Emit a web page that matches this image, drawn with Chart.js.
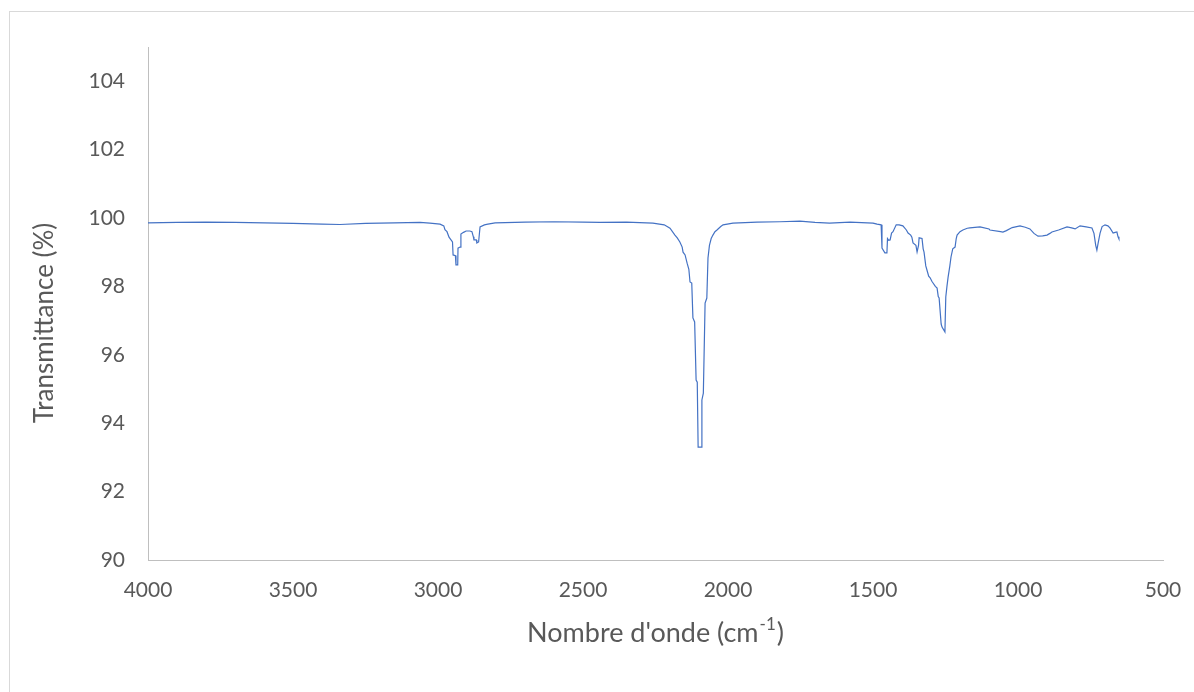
<!DOCTYPE html>
<html>
<head>
<meta charset="utf-8">
<script src="https://cdn.jsdelivr.net/npm/chart.js@4/dist/chart.umd.min.js"></script>
<style>
  html, body { margin: 0; padding: 0; background: #fff; }
  #wrap { width: 1194px; height: 692px; }
</style>
</head>
<body>
<div id="wrap"><canvas id="myChart" width="1194" height="692"></canvas></div>
<script>
var wavenumbers = [
  4000, 3900, 3800, 3700, 3600, 3500, 3400, 3338, 3250, 3150, 3062, 3028, 2993, 2980, 2976, 2969,
  2962, 2959, 2950, 2948, 2940, 2938, 2932, 2931, 2924, 2921, 2912, 2903, 2890, 2883, 2878, 2876,
  2868, 2866, 2860, 2855, 2840, 2828, 2803, 2700, 2600, 2500, 2441, 2350, 2259, 2220, 2200, 2183,
  2175, 2166, 2158, 2155, 2148, 2141, 2135, 2131, 2125, 2121, 2115, 2110, 2106, 2103, 2092, 2090,
  2085, 2079, 2073, 2069, 2064, 2058, 2052, 2045, 2038, 2025, 2017, 1983, 1900, 1821, 1752, 1700,
  1650, 1579, 1500, 1486, 1472, 1469, 1459, 1452, 1450, 1446, 1441, 1436, 1431, 1420, 1410, 1397,
  1385, 1379, 1370, 1366, 1362, 1352, 1348, 1343, 1341, 1331, 1327, 1324, 1318, 1314, 1308, 1303,
  1297, 1293, 1285, 1279, 1275, 1272, 1265, 1262, 1252, 1249, 1245, 1241, 1235, 1231, 1225, 1217,
  1213, 1210, 1200, 1190, 1175, 1166, 1131, 1100, 1097, 1060, 1052, 1040, 1020, 993, 975, 959,
  945, 931, 915, 900, 890, 883, 860, 831, 815, 803, 786, 765, 745, 738, 732, 728,
  724, 717, 710, 700, 690, 683, 672, 665, 659, 655, 652
];
var transmittance = [
  99.86, 99.87, 99.88, 99.87, 99.86, 99.84, 99.82, 99.81, 99.84, 99.86, 99.87, 99.85, 99.82, 99.77, 99.66, 99.60,
  99.44, 99.44, 99.30, 98.92, 98.90, 98.63, 98.63, 99.12, 99.15, 99.53, 99.58, 99.62, 99.62, 99.60, 99.45, 99.36,
  99.36, 99.27, 99.30, 99.74, 99.80, 99.82, 99.86, 99.88, 99.89, 99.88, 99.87, 99.88, 99.85, 99.80, 99.70, 99.50,
  99.42, 99.30, 99.15, 99.00, 98.92, 98.68, 98.50, 98.13, 98.10, 97.08, 96.96, 95.26, 95.20, 93.30, 93.30, 94.68,
  94.88, 97.51, 97.66, 98.83, 99.20, 99.40, 99.50, 99.60, 99.65, 99.75, 99.80, 99.85, 99.88, 99.89, 99.91, 99.87,
  99.85, 99.88, 99.85, 99.82, 99.80, 99.12, 98.98, 98.98, 99.40, 99.35, 99.36, 99.56, 99.60, 99.80, 99.80, 99.77,
  99.65, 99.56, 99.50, 99.44, 99.27, 99.20, 99.01, 99.20, 99.42, 99.40, 99.10, 99.00, 98.60, 98.48, 98.30, 98.25,
  98.15, 98.10, 98.00, 97.95, 97.70, 97.66, 96.90, 96.81, 96.67, 97.69, 98.00, 98.27, 98.60, 98.86, 99.10, 99.15,
  99.40, 99.50, 99.60, 99.65, 99.70, 99.71, 99.74, 99.68, 99.65, 99.60, 99.59, 99.63, 99.72, 99.77, 99.73, 99.68,
  99.55, 99.47, 99.48, 99.50, 99.55, 99.59, 99.65, 99.74, 99.71, 99.68, 99.77, 99.74, 99.71, 99.55, 99.20, 99.06,
  99.25, 99.56, 99.75, 99.80, 99.77, 99.71, 99.56, 99.58, 99.59, 99.45, 99.39
];
var yTicks = [90, 92, 94, 96, 98, 100, 102, 104];

var points = wavenumbers.map(function (w, i) {
  return { x: w, y: transmittance[i] };
});

// cadre gris + titres des axes (l'exposant de cm-1 est dessiné à part)
var frame = {
  id: "frame",
  beforeDraw: function (chart) {
    var c = chart.ctx;
    c.save();
    c.strokeStyle = "#d9d9d9";
    c.lineWidth = 1;
    c.strokeRect(9.5, 11.5, 1300, 800);
    c.restore();
  },
  afterDraw: function (chart) {
    var c = chart.ctx;
    var area = chart.chartArea;
    c.save();
    c.fillStyle = "#595959";
    c.textBaseline = "middle";

    // titre Y
    c.save();
    c.translate(45, 323);
    c.rotate(-Math.PI / 2);
    c.font = "26px Lato";
    c.textAlign = "center";
    c.fillText("Transmittance (%)", 0, 0);
    c.restore();

    // titre X
    var big = "27px Lato", small = "17px Lato";
    var p1 = "Nombre d'onde (cm", sup = "-1", p2 = ")";
    c.font = big;
    var w1 = c.measureText(p1).width, w3 = c.measureText(p2).width;
    c.font = small;
    var w2 = c.measureText(sup).width + 2;
    var total = w1 + w2 + w3;
    var x0 = (area.left + area.right) / 2 - total / 2;
    var y0 = 633;
    c.textAlign = "left";
    c.font = big;
    c.fillText(p1, x0, y0);
    c.font = small;
    c.fillText(sup, x0 + w1 + 1, y0 - 8);
    c.font = big;
    c.fillText(p2, x0 + w1 + w2, y0);
    c.restore();
  },
};

var ctx = document.getElementById("myChart");
var myChart = new Chart(ctx, {
  type: "line",
  data: {
    datasets: [
      {
        label: "Transmittance",
        data: points,
        borderColor: "#4472c4",
        backgroundColor: "#4472c4",
        borderWidth: 1.2,
        pointRadius: 0,
        tension: 0,
        fill: false,
      },
    ],
  },
  options: {
    responsive: false,
    animation: false,
    layout: {
      padding: { top: 47, right: 31, left: 0, bottom: 0 },
    },
    plugins: {
      legend: { display: false },
      tooltip: { enabled: false },
    },
    scales: {
      x: {
        type: "linear",
        reverse: true,
        min: 500,
        max: 4000,
        grid: { display: false, drawTicks: false },
        border: { display: true, color: "#bfbfbf", width: 1 },
        ticks: {
          stepSize: 500,
          padding: 18,
          color: "#595959",
          font: { family: "Lato", size: 21 },
          maxRotation: 0,
          callback: function (v) { return String(v); },
        },
        afterFit: function (scale) {
          scale.height = 132;
          scale.paddingLeft = 0;
          scale.paddingRight = 0;
        },
      },
      y: {
        min: 90,
        max: 105,
        grid: { display: false, drawTicks: false },
        border: { display: true, color: "#bfbfbf", width: 1 },
        afterBuildTicks: function (scale) {
          scale.ticks = yTicks.map(function (v) { return { value: v }; });
        },
        ticks: {
          padding: 23,
          color: "#595959",
          font: { family: "Lato", size: 21 },
        },
        afterFit: function (scale) { scale.width = 148; },
      },
    },
  },
  plugins: [frame],
});
</script>
</body>
</html>
